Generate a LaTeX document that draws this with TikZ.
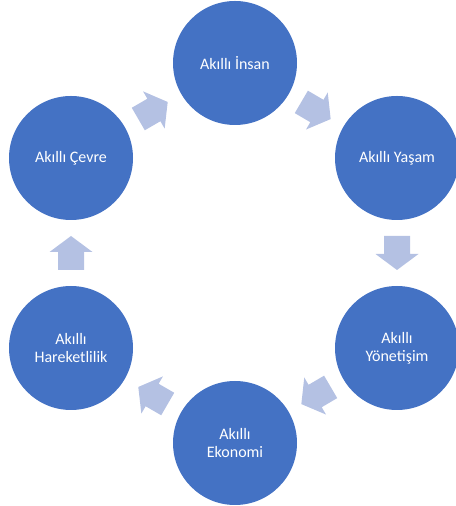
\documentclass[tikz,border=0pt]{standalone}
\usepackage{fontspec}
\setmainfont{Carlito}
\definecolor{circblue}{RGB}{68,114,196}
\definecolor{arrowblue}{RGB}{180,193,227}
\tikzset{
  cyclenode/.style={circle, fill=circblue, draw=none, minimum size=93pt, inner sep=0pt,
    text=white, align=center, font=\fontsize{12}{13.5}\selectfont},
  blockarrow/.pic={
    \fill[arrowblue] (-17,-13) -- (1,-13) -- (1,-21.5) -- (17,0) -- (1,21.5) -- (1,13) -- (-17,13) -- cycle;
  }
}
\begin{document}
\begin{tikzpicture}[x=0.75pt,y=0.75pt]
\useasboundingbox (0,0) rectangle (455,506);
\node[cyclenode] (insan) at (235,443) {Akıllı İnsan};
\node[cyclenode] (yasam) at (397,348) {Akıllı Yaşam};
\node[cyclenode] (yonetisim) at (397,158) {Akıllı\\Yönetişim};
\node[cyclenode] (ekonomi) at (235,63) {Akıllı\\Ekonomi};
\node[cyclenode] (hareket) at (71,158) {Akıllı\\Hareketlilik};
\node[cyclenode] (cevre) at (71,348) {Akıllı Çevre};
\path (insan.center) -- pic[pos=0.5, sloped, allow upside down]{blockarrow} (yasam.center);
\path (yasam.center) -- pic[pos=0.5, sloped, allow upside down]{blockarrow} (yonetisim.center);
\path (yonetisim.center) -- pic[pos=0.5, sloped, allow upside down]{blockarrow} (ekonomi.center);
\path (ekonomi.center) -- pic[pos=0.5, sloped, allow upside down]{blockarrow} (hareket.center);
\path (hareket.center) -- pic[pos=0.5, sloped, allow upside down]{blockarrow} (cevre.center);
\path (cevre.center) -- pic[pos=0.5, sloped, allow upside down]{blockarrow} (insan.center);
\end{tikzpicture}
\end{document}
